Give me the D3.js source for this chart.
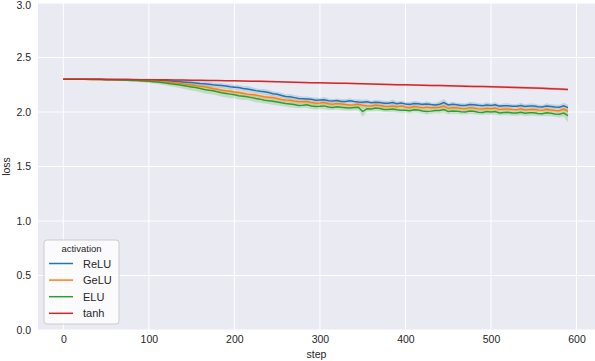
<!doctype html>
<html lang="en">
  <head>
    <meta charset="utf-8">
    <title>loss by step</title>
    <script src="https://d3js.org/d3.v7.min.js"></script>
    <style>
      body { margin: 0; background: white; }
      text { font-family: "Liberation Sans", Arial, sans-serif; fill: #262626; }
    </style>
  </head>
  <body>
    <svg width="595" height="361"></svg>
    <script>
      // ReLU / GeLU / ELU sampled every 5 steps, tanh every 10
      var steps = d3.range(0, 595, 5);
      var tanhSteps = d3.range(0, 600, 10);
      var names = ['ReLU', 'GeLU', 'ELU', 'tanh'];
      var colors = ['#1f77b4', '#ff7f0e', '#2ca02c', '#d62728'];

      var relu = [
        2.301, 2.301, 2.301, 2.301, 2.300, 2.300, 2.300, 2.300, 2.300, 2.300,
        2.299, 2.299, 2.299, 2.299, 2.298, 2.298, 2.297, 2.297, 2.296, 2.295,
        2.294, 2.293, 2.291, 2.289, 2.287, 2.285, 2.282, 2.279, 2.276, 2.273,
        2.270, 2.267, 2.262, 2.260, 2.255, 2.249, 2.246, 2.243, 2.238, 2.232,
        2.228, 2.224, 2.216, 2.212, 2.205, 2.196, 2.190, 2.186, 2.178, 2.168,
        2.162, 2.152, 2.142, 2.140, 2.132, 2.124, 2.122, 2.120, 2.116, 2.108,
        2.110, 2.112, 2.103, 2.100, 2.105, 2.096, 2.097, 2.104, 2.097, 2.092,
        2.090, 2.094, 2.084, 2.090, 2.088, 2.080, 2.080, 2.086, 2.076, 2.082,
        2.074, 2.070, 2.078, 2.076, 2.070, 2.074, 2.068, 2.064, 2.072, 2.086,
        2.064, 2.070, 2.066, 2.060, 2.060, 2.068, 2.067, 2.062, 2.058, 2.064,
        2.060, 2.066, 2.054, 2.058, 2.058, 2.052, 2.052, 2.060, 2.050, 2.056,
        2.055, 2.048, 2.047, 2.054, 2.050, 2.046, 2.044, 2.056, 2.040
      ];
      var gelu = [
        2.301, 2.301, 2.301, 2.300, 2.300, 2.300, 2.300, 2.299, 2.299, 2.299,
        2.298, 2.298, 2.297, 2.296, 2.295, 2.294, 2.293, 2.292, 2.290, 2.288,
        2.286, 2.284, 2.281, 2.278, 2.275, 2.271, 2.267, 2.263, 2.258, 2.253,
        2.248, 2.242, 2.236, 2.232, 2.224, 2.214, 2.208, 2.200, 2.194, 2.190,
        2.183, 2.180, 2.172, 2.164, 2.160, 2.155, 2.148, 2.140, 2.136, 2.132,
        2.124, 2.114, 2.110, 2.108, 2.100, 2.094, 2.093, 2.096, 2.087, 2.080,
        2.082, 2.086, 2.076, 2.072, 2.078, 2.074, 2.068, 2.064, 2.066, 2.070,
        2.062, 2.058, 2.056, 2.064, 2.060, 2.052, 2.050, 2.056, 2.048, 2.054,
        2.045, 2.040, 2.050, 2.046, 2.040, 2.044, 2.038, 2.042, 2.044, 2.054,
        2.034, 2.040, 2.038, 2.032, 2.030, 2.040, 2.036, 2.030, 2.027, 2.034,
        2.030, 2.036, 2.023, 2.028, 2.028, 2.022, 2.021, 2.030, 2.019, 2.024,
        2.025, 2.018, 2.015, 2.024, 2.019, 2.014, 2.012, 2.026, 2.006
      ];
      var elu = [
        2.301, 2.301, 2.301, 2.300, 2.300, 2.300, 2.299, 2.299, 2.298, 2.298,
        2.297, 2.296, 2.295, 2.294, 2.293, 2.292, 2.290, 2.288, 2.286, 2.284,
        2.281, 2.278, 2.275, 2.270, 2.266, 2.260, 2.255, 2.250, 2.244, 2.236,
        2.230, 2.224, 2.216, 2.206, 2.200, 2.194, 2.185, 2.176, 2.170, 2.164,
        2.158, 2.150, 2.145, 2.140, 2.132, 2.124, 2.118, 2.108, 2.104, 2.098,
        2.092, 2.084, 2.078, 2.074, 2.068, 2.060, 2.062, 2.066, 2.056, 2.050,
        2.052, 2.056, 2.046, 2.042, 2.049, 2.044, 2.040, 2.036, 2.041, 2.044,
        2.004, 2.030, 2.028, 2.036, 2.032, 2.024, 2.022, 2.028, 2.020, 2.016,
        2.016, 2.012, 2.021, 2.018, 2.010, 2.004, 2.008, 2.014, 2.014, 2.022,
        2.004, 2.010, 2.008, 2.002, 2.000, 2.010, 2.006, 1.998, 1.996, 2.004,
        1.999, 2.004, 1.992, 1.996, 1.997, 1.990, 1.990, 1.998, 1.988, 1.992,
        1.994, 1.986, 1.984, 1.992, 1.988, 1.982, 1.980, 1.990, 1.966
      ];
      var tanh = [
        2.301, 2.301, 2.300, 2.300, 2.300, 2.299, 2.299, 2.298, 2.298, 2.297,
        2.296, 2.295, 2.295, 2.294, 2.293, 2.292, 2.291, 2.290, 2.288, 2.287,
        2.286, 2.284, 2.282, 2.281, 2.279, 2.277, 2.275, 2.273, 2.271, 2.269,
        2.268, 2.266, 2.264, 2.263, 2.261, 2.259, 2.257, 2.255, 2.253, 2.251,
        2.250, 2.248, 2.246, 2.244, 2.243, 2.241, 2.239, 2.237, 2.235, 2.234,
        2.232, 2.229, 2.227, 2.225, 2.222, 2.220, 2.217, 2.214, 2.211, 2.207
      ];

      // half-width of the confidence band
      var reluBand = [
        .003, .003, .003, .003, .003, .003, .004, .004, .004, .004,
        .005, .005, .006, .006, .007, .007, .008, .008, .009, .009,
        .010, .011, .012, .013, .014, .015, .016, .017, .018, .019,
        .020, .020, .020, .021, .022, .022, .022, .023, .022, .024,
        .022, .024, .022, .026, .024, .022, .022, .025, .024, .022,
        .022, .024, .020, .026, .022, .024, .020, .023, .020, .024,
        .018, .026, .022, .020, .018, .024, .020, .022, .018, .026,
        .022, .024, .018, .022, .020, .024, .018, .028, .020, .022,
        .018, .022, .024, .020, .018, .024, .020, .022, .026, .034,
        .018, .024, .020, .022, .018, .024, .022, .020, .018, .026,
        .020, .024, .018, .022, .022, .020, .018, .024, .020, .022,
        .022, .020, .018, .026, .020, .022, .022, .030, .026
      ];
      var geluBand = [
        .003, .003, .003, .003, .004, .004, .004, .004, .005, .005,
        .006, .006, .007, .007, .008, .008, .009, .010, .011, .012,
        .014, .015, .016, .017, .018, .019, .020, .021, .022, .023,
        .024, .024, .024, .025, .026, .025, .024, .025, .024, .026,
        .024, .022, .024, .022, .022, .024, .020, .022, .022, .024,
        .020, .022, .020, .024, .022, .020, .018, .022, .020, .022,
        .018, .022, .020, .018, .018, .022, .020, .018, .018, .022,
        .022, .020, .018, .022, .020, .018, .018, .024, .020, .020,
        .018, .020, .022, .018, .018, .022, .020, .018, .022, .028,
        .018, .022, .020, .018, .018, .022, .020, .018, .018, .022,
        .020, .022, .018, .020, .020, .018, .018, .022, .020, .020,
        .020, .018, .018, .024, .020, .018, .020, .026, .030
      ];
      var eluBand = [
        .003, .003, .003, .004, .004, .004, .005, .005, .006, .006,
        .007, .007, .008, .009, .010, .011, .012, .013, .014, .015,
        .016, .017, .018, .020, .022, .024, .026, .028, .030, .031,
        .032, .034, .034, .036, .036, .034, .034, .036, .034, .038,
        .032, .036, .034, .030, .030, .034, .032, .030, .030, .034,
        .030, .028, .028, .032, .030, .026, .026, .030, .028, .026,
        .026, .030, .028, .024, .024, .028, .026, .024, .024, .028,
        .050, .026, .024, .028, .026, .024, .024, .030, .024, .026,
        .024, .026, .026, .024, .024, .026, .024, .026, .028, .030,
        .024, .028, .026, .024, .024, .028, .026, .024, .024, .026,
        .026, .028, .024, .026, .026, .024, .024, .028, .026, .026,
        .028, .024, .024, .030, .026, .026, .030, .034, .060
      ];
      var tanhBand = [
        .004, .004, .004, .004, .004, .004, .004, .004, .004, .005,
        .005, .005, .005, .005, .005, .005, .006, .006, .006, .006,
        .006, .006, .006, .007, .007, .007, .007, .007, .007, .007,
        .008, .008, .008, .008, .008, .008, .008, .009, .009, .009,
        .009, .009, .009, .009, .010, .010, .010, .010, .010, .010,
        .010, .011, .011, .011, .011, .011, .012, .012, .012, .012
      ];

      var yTicks = [0, 0.5, 1.0, 1.5, 2.0, 2.5, 3.0];
      var xTicks = [0, 100, 200, 300, 400, 500, 600];

      var series = [
        { name: names[0], color: colors[0], steps: steps, values: relu, band: reluBand },
        { name: names[1], color: colors[1], steps: steps, values: gelu, band: geluBand },
        { name: names[2], color: colors[2], steps: steps, values: elu, band: eluBand },
        { name: names[3], color: colors[3], steps: tanhSteps, values: tanh, band: tanhBand }
      ];

      var svg = d3.select('svg');
      var pLeft = 38, pRight = 595, pTop = 3, pBottom = 330;

      var x = d3.scaleLinear().domain([-29.6, 621.6]).range([pLeft, pRight]);
      var y = d3.scaleLinear().domain([0, 3]).range([pBottom, pTop]);

      svg.append('rect')
        .attr('x', pLeft).attr('y', pTop)
        .attr('width', pRight - pLeft).attr('height', pBottom - pTop)
        .attr('fill', '#eaeaf2');

      // grid
      svg.append('g').selectAll('line').data(xTicks).enter().append('line')
        .attr('x1', function(d){ return x(d); }).attr('x2', function(d){ return x(d); })
        .attr('y1', pTop).attr('y2', pBottom)
        .attr('stroke', 'white').attr('stroke-width', 1);
      svg.append('g').selectAll('line').data(yTicks).enter().append('line')
        .attr('x1', pLeft).attr('x2', pRight)
        .attr('y1', function(d){ return y(d); }).attr('y2', function(d){ return y(d); })
        .attr('stroke', 'white').attr('stroke-width', 1);

      // axes (text only, no spines)
      var xAxis = svg.append('g')
        .attr('transform', 'translate(0,' + pBottom + ')')
        .call(d3.axisBottom(x).tickValues(xTicks).tickSize(0).tickPadding(6).tickFormat(d3.format('d')));
      var yAxis = svg.append('g')
        .attr('transform', 'translate(' + pLeft + ',0)')
        .call(d3.axisLeft(y).tickValues(yTicks).tickSize(0).tickPadding(7).tickFormat(d3.format('.1f')));
      [xAxis, yAxis].forEach(function(a){
        a.select('.domain').remove();
        a.selectAll('text').style('font-size', '10.5px').attr('fill', '#262626')
          .style('font-family', '"Liberation Sans", Arial, sans-serif');
      });
      // keep the top label inside the page
      yAxis.selectAll('.tick text').filter(function(d){ return d === 3; })
        .attr('dy', '0.32em').attr('y', 2);

      svg.append('text').text('step')
        .attr('x', (pLeft + pRight) / 2).attr('y', 358)
        .attr('text-anchor', 'middle').style('font-size', '10.5px');
      svg.append('text').text('loss')
        .attr('transform', 'translate(10,' + ((pTop + pBottom) / 2) + ') rotate(-90)')
        .attr('text-anchor', 'middle').style('font-size', '10.5px');

      var area = d3.area()
        .x(function(d){ return x(d.step); })
        .y0(function(d){ return y(d.v - d.b); })
        .y1(function(d){ return y(d.v + d.b); });
      var line = d3.line()
        .x(function(d){ return x(d.step); })
        .y(function(d){ return y(d.v); });

      function points(s) {
        return s.steps.map(function(st, i){ return { step: st, v: s.values[i], b: s.band[i] }; });
      }

      var plot = svg.append('g');
      series.forEach(function(s){
        plot.append('path').datum(points(s))
          .attr('d', area).attr('fill', s.color).attr('fill-opacity', 0.2);
      });
      series.forEach(function(s){
        plot.append('path').datum(points(s))
          .attr('d', line).attr('fill', 'none')
          .attr('stroke', s.color).attr('stroke-width', 1.5);
      });

      // legend
      var lg = svg.append('g').attr('transform', 'translate(44,240)');
      lg.append('rect')
        .attr('width', 75).attr('height', 84).attr('rx', 3)
        .attr('fill', 'white').attr('fill-opacity', 0.8)
        .attr('stroke', '#cccccc').attr('stroke-width', 1);
      lg.append('text').text('activation')
        .attr('x', 37.5).attr('y', 12).attr('text-anchor', 'middle')
        .style('font-size', '9.5px');
      var items = lg.selectAll('g.item').data(series).enter().append('g')
        .attr('transform', function(d, i){ return 'translate(0,' + (23.5 + i * 16.6) + ')'; });
      items.append('line')
        .attr('x1', 5).attr('x2', 29).attr('y1', 0).attr('y2', 0)
        .attr('stroke', function(d){ return d.color; }).attr('stroke-width', 1.5);
      items.append('text').text(function(d){ return d.name; })
        .attr('x', 39).attr('y', 4).style('font-size', '11px');
    </script>
  </body>
</html>
